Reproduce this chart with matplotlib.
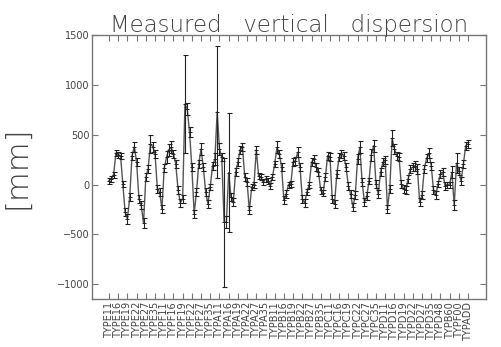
import numpy as np
import matplotlib
matplotlib.use("Agg")
import matplotlib.pyplot as plt

# measured vertical dispersion [mm]
disp = [
    40, 57, 100, 317, 300, 290, 7, -277, -343, -127,
    290, 380, 223, -143, -210, -387, 73, 157, 407, 380,
    307, -43, -77, -243, 167, 273, 350, 373, 307, 207,
    -53, -183, -143, 807, 757, 523, 173, -293, -77, 207,
    357, 173, -77, -193, -20, 190, 257, 730, 357, 273,
    -380, -377, 120, -127, -177, 123, 223, 350, 373, 73,
    23, -260, -27, 0, 350, 90, 73, 23, 57, 40,
    -10, 73, 207, 373, 307, 173, -160, -93, 0, 7,
    230, 240,
    323, 173, -143, -187, -77, 0, 223, 257, 173, 130,
    -60, -87, 73, 290, 280, -143, -193, 107, 273, 307,
    290, 173, -10, -100, -227, -110, 257, 373, 23, -177,
    -120, 40, 300, 390, 7, -93, 123, 223, 247, -243,
    -43, 463, 357, 290, 273, 7, -43, -53, 57, 157,
    173, 190, 157, -177, -110, 157, 263, 313, 190, -53,
    -110, 7, 107, 123, -10, 0, 0, 123, -210, 213,
    140, 33, 207, 390, 407,
]

# error bars, mostly small with a few very large ones
err = [
    30, 30, 30, 30, 30, 30, 30, 40, 50, 40,
    40, 50, 40, 40, 40, 50, 40, 40, 90, 50,
    40, 40, 40, 40, 40, 60, 60, 60, 40, 40,
    40, 40, 40, 490, 60, 50, 40, 40, 40, 40,
    60, 40, 40, 40, 30, 40, 60, 660, 60, 40,
    650, 60, 600, 40, 40, 40, 40, 40, 40, 40,
    40, 40, 30, 30, 40, 30, 30, 30, 30, 30,
    30, 30, 30, 60, 40, 40, 40, 40, 30, 30,
    40, 40,
    50, 40, 40, 40, 30, 30, 40, 40, 40, 40,
    40, 30, 40, 40, 40, 40, 40, 40, 40, 40,
    40, 40, 40, 40, 40, 40, 50, 60, 40, 40,
    40, 30, 60, 60, 40, 40, 40, 40, 40, 40,
    40, 80, 50, 40, 40, 40, 40, 40, 40, 40,
    40, 50, 50, 40, 40, 40, 40, 50, 40, 40,
    40, 30, 40, 40, 40, 30, 30, 60, 50, 100,
    40, 40, 40, 40, 40,
]

prefixes = ["TYPE", "TYPF", "TYPA", "TYPB", "TYPC", "TYPD"]
suffixes = ["11", "16", "19", "22", "27", "35"]
extra_labels = ["TYPD48", "TYPB60", "TYPF00", "TYPADD"]
tick_labels = [p + s for p in prefixes for s in suffixes] + extra_labels

tick_step = 4

gray = "#777777"
text_col = "#444444"

x = np.arange(len(disp))

fig = plt.figure(figsize=(5.01, 3.47), dpi=100)
ax = fig.add_axes([0.1836, 0.138, 0.7864, 0.761])

ax.plot(x, disp, color="#555555", lw=1.0, zorder=2)
ax.errorbar(x, disp, yerr=err, fmt="none", ecolor="#222222",
            elinewidth=0.8, capsize=1.8, capthick=0.8, zorder=3)
ax.plot(x, disp, "+", color="#222222", ms=3, mew=0.7, zorder=4)

ax.set_xlim(-7.4, len(disp) - 1 + 7.8)
ax.set_ylim(-1150, 1500)
ax.set_yticks([-1000, -500, 0, 500, 1000, 1500])

ticks = x[::tick_step][:len(tick_labels)]
ax.set_xticks(ticks)
ax.set_xticklabels(tick_labels[:len(ticks)], rotation=90, fontsize=6.5,
                   color="#333333")

for s in ax.spines.values():
    s.set_color(gray)
    s.set_linewidth(1.0)

ax.tick_params(axis="both", direction="in", top=True, right=True,
               color=gray, width=0.8, length=4, labelsize=7,
               labelcolor=text_col)
ax.tick_params(axis="x", pad=2)
ax.tick_params(axis="y", pad=2)

ax.set_title("Measured   vertical   dispersion", fontsize=16.5,
             color=text_col, fontweight="light", pad=2)
ax.set_ylabel("[mm]", fontsize=22, color=text_col, fontweight="light",
              labelpad=18)

fig.savefig("out.png", dpi=100)
